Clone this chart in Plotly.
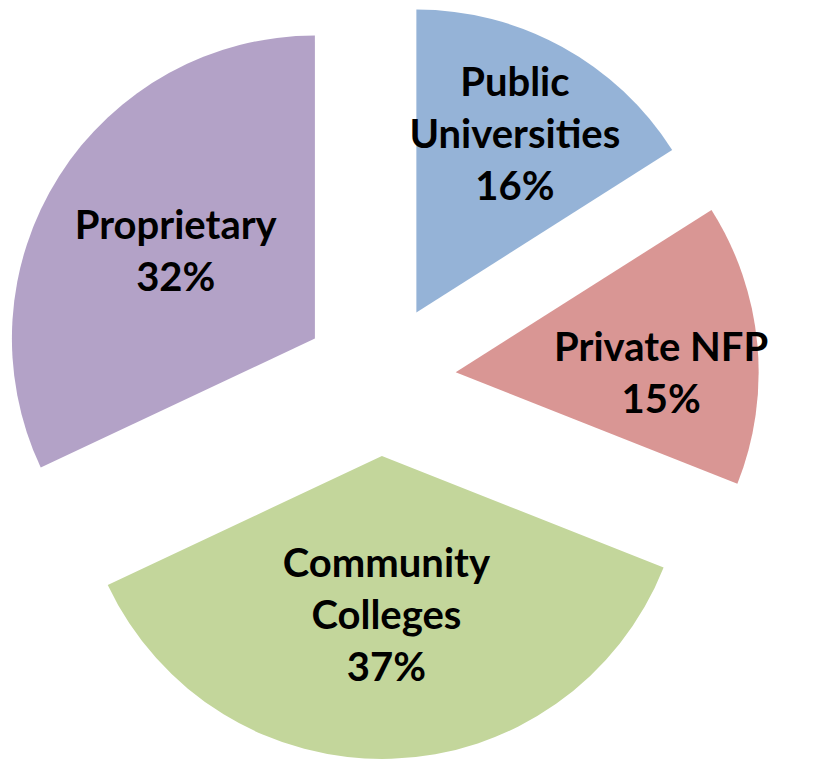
import plotly.graph_objects as go

labels = ["Public<br>Universities", "Private NFP", "Community<br>Colleges", "Proprietary"]
values = [16, 15, 37, 32]
colors = ["#95B3D7", "#D99694", "#C3D69B", "#B3A2C7"]
pulls = [0.2525, 0.2525, 0.2525, 0.2525]

fig = go.Figure(go.Pie(
    labels=labels,
    values=values,
    sort=False,
    direction="clockwise",
    rotation=0,
    pull=pulls,
    marker=dict(colors=colors, line=dict(width=0)),
    texttemplate="<b>%{label}<br>%{percent:.0%}</b>",
    textposition="inside",
    insidetextorientation="horizontal",
    textfont=dict(family="Lato", size=40, color="black"),
    hoverinfo="label+percent",
    showlegend=False,
))

fig.update_layout(
    width=821, height=759,
    margin=dict(l=0, r=62, t=0, b=0),
    paper_bgcolor="white",
    plot_bgcolor="white",
    uniformtext=dict(minsize=40, mode="show"),
)

fig.write_html(
    "out.html",
    config={"displayModeBar": False},
    post_script="document.body.style.margin='0';document.body.style.overflow='hidden';",
)
